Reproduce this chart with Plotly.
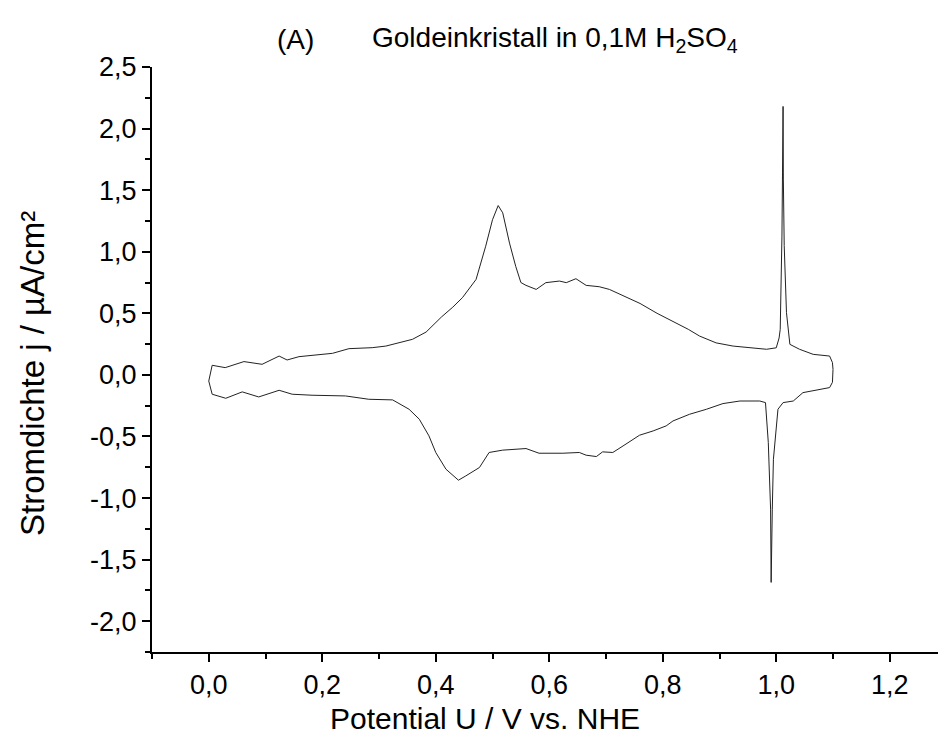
import plotly.graph_objects as go

# Anodic (forward) sweep
v_up = [0.006, 0.029, 0.062, 0.094, 0.124, 0.138, 0.159, 0.182, 0.218, 0.247, 0.288, 0.312,
        0.335, 0.359, 0.383, 0.41, 0.43, 0.447, 0.471, 0.488, 0.5, 0.51, 0.518, 0.53, 0.541,
        0.55, 0.559, 0.577, 0.594, 0.618, 0.63, 0.647, 0.665, 0.688, 0.706, 0.736, 0.76, 0.79,
        0.82, 0.845, 0.865, 0.894, 0.924, 0.955, 0.983, 1.0, 1.005, 1.007, 1.009, 1.010, 1.011,
        1.012, 1.0125, 1.014, 1.018, 1.024, 1.041, 1.065, 1.094, 1.099, 1.1, 1.1, 1.099]
j_up = [0.078, 0.059, 0.108, 0.086, 0.153, 0.121, 0.148, 0.159, 0.175, 0.213, 0.221, 0.234,
        0.262, 0.289, 0.348, 0.47, 0.55, 0.627, 0.775, 1.045, 1.26, 1.375, 1.316, 1.07, 0.88,
        0.75, 0.727, 0.694, 0.749, 0.762, 0.749, 0.781, 0.727, 0.716, 0.694, 0.627, 0.58, 0.5,
        0.43, 0.37, 0.315, 0.26, 0.234, 0.22, 0.208, 0.22, 0.3, 0.37, 0.775, 1.127, 1.64,
        2.18, 1.59, 1.05, 0.505, 0.248, 0.208, 0.167, 0.153, 0.1, 0.045, -0.009, -0.06]

# Cathodic (reverse) sweep
v_down = [1.094, 1.071, 1.047, 1.03, 1.012, 1.003, 0.995, 0.993, 0.991, 0.99, 0.986, 0.981,
          0.971, 0.936, 0.906, 0.877, 0.847, 0.818, 0.806, 0.783, 0.759, 0.73, 0.712, 0.694,
          0.683, 0.665, 0.653, 0.624, 0.582, 0.559, 0.518, 0.494, 0.477, 0.453, 0.44, 0.418,
          0.4, 0.388, 0.371, 0.353, 0.324, 0.282, 0.241, 0.182, 0.147, 0.124, 0.088, 0.059,
          0.03, 0.006, 0.0, 0.006]
j_down = [-0.103, -0.122, -0.144, -0.212, -0.225, -0.279, -0.685, -1.09, -1.685, -1.09, -0.55,
          -0.225, -0.212, -0.212, -0.233, -0.279, -0.32, -0.374, -0.414, -0.455, -0.49, -0.577,
          -0.63, -0.625, -0.663, -0.652, -0.63, -0.636, -0.636, -0.598, -0.611, -0.63, -0.752,
          -0.82, -0.855, -0.766, -0.63, -0.495, -0.36, -0.279, -0.203, -0.198, -0.171, -0.165,
          -0.157, -0.125, -0.179, -0.138, -0.19, -0.157, -0.05, 0.078]

x_tickvals = [0.0, 0.2, 0.4, 0.6, 0.8, 1.0, 1.2]
x_ticktext = ["0,0", "0,2", "0,4", "0,6", "0,8", "1,0", "1,2"]
x_minor = [-0.1, 0.1, 0.3, 0.5, 0.7, 0.9, 1.1]
y_tickvals = [-2.0, -1.5, -1.0, -0.5, 0.0, 0.5, 1.0, 1.5, 2.0, 2.5]
y_ticktext = ["-2,0", "-1,5", "-1,0", "-0,5", "0,0", "0,5", "1,0", "1,5", "2,0", "2,5"]
y_minor = [-2.25, -1.75, -1.25, -0.75, -0.25, 0.25, 0.75, 1.25, 1.75, 2.25]

FONT = "Liberation Sans, Arial, sans-serif"

fig = go.Figure()
fig.add_trace(go.Scatter(x=v_up + v_down, y=j_up + j_down, mode="lines",
                         line=dict(color="#222222", width=1), showlegend=False,
                         hoverinfo="skip"))

axis_common = dict(showgrid=False, zeroline=False, showline=True, linecolor="black",
                   linewidth=2, ticks="outside", ticklen=8, tickwidth=2, tickcolor="black",
                   tickfont=dict(family=FONT, size=27, color="black"))

fig.update_xaxes(range=[-0.1, 1.285], tickmode="array", tickvals=x_tickvals,
                 ticktext=x_ticktext,
                 minor=dict(tickvals=x_minor, ticks="outside", ticklen=5, tickwidth=2,
                            tickcolor="black"),
                 **axis_common)
fig.update_yaxes(range=[-2.25, 2.5], tickmode="array", tickvals=y_tickvals,
                 ticktext=y_ticktext,
                 minor=dict(tickvals=y_minor, ticks="outside", ticklen=5, tickwidth=2,
                            tickcolor="black"),
                 **axis_common)

fig.update_layout(
    width=938, height=749,
    margin=dict(l=152, r=0, t=67, b=97),
    plot_bgcolor="white", paper_bgcolor="white",
    font=dict(family=FONT, color="black"),
    annotations=[
        dict(text="(A)", xref="paper", yref="paper", x=(275 - 152) / 786, y=(652 - 40) / 585,
             xanchor="left", yanchor="middle", showarrow=False,
             font=dict(family=FONT, size=28, color="black")),
        dict(text="Goldeinkristall in 0,1M H<sub>2</sub>SO<sub>4</sub>", xref="paper",
             yref="paper", x=(370 - 152) / 786, y=(652 - 40) / 585, xanchor="left",
             yanchor="middle", showarrow=False,
             font=dict(family=FONT, size=28, color="black")),
        dict(text="Potential U / V vs. NHE", xref="paper", yref="paper",
             x=(485 - 152) / 786, y=(652 - 718) / 585, xanchor="center",
             yanchor="middle", showarrow=False,
             font=dict(family=FONT, size=30, color="black")),
        dict(text="Stromdichte j / µA/cm²", xref="paper", yref="paper",
             x=(32 - 152) / 786, y=(652 - 374) / 585, xanchor="center",
             yanchor="middle", textangle=-90, showarrow=False,
             font=dict(family=FONT, size=33, color="black")),
    ],
)

fig.write_html("out.html", config={"displayModeBar": False},
               post_script="document.body.style.margin='0';")
